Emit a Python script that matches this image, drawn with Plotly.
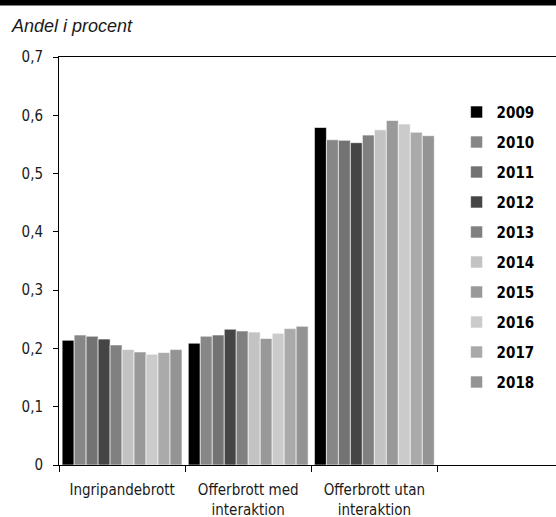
import plotly.graph_objects as go

categories = ["Ingripandebrott", "Offerbrott med<br>interaktion", "Offerbrott utan<br>interaktion"]
years = ["2009", "2010", "2011", "2012", "2013", "2014", "2015", "2016", "2017", "2018"]

ingripande = [0.214, 0.223, 0.221, 0.216, 0.206, 0.198, 0.194, 0.190, 0.193, 0.198]
offer_med = [0.209, 0.221, 0.223, 0.233, 0.230, 0.228, 0.217, 0.226, 0.234, 0.238]
offer_utan = [0.579, 0.558, 0.557, 0.553, 0.566, 0.575, 0.591, 0.585, 0.571, 0.565]

y_ticks = [0, 0.1, 0.2, 0.3, 0.4, 0.5, 0.6, 0.7]
y_labels = ["0", "0,1", "0,2", "0,3", "0,4", "0,5", "0,6", "0,7"]

colors = ["#000000", "#878787", "#737373", "#454545", "#808080",
          "#c3c3c3", "#999999", "#cbcbcb", "#aaaaaa", "#949494"]

font_cond = "DejaVu Sans Condensed"

fig = go.Figure()
for i, year in enumerate(years):
    fig.add_trace(go.Bar(
        x=categories,
        y=[ingripande[i], offer_med[i], offer_utan[i]],
        name=year,
        legendgroup=year,
        marker=dict(color=colors[i], line=dict(color="white", width=0.6)),
    ))

fig.update_layout(
    width=556, height=517,
    margin=dict(l=59, r=0, t=57, b=52),
    plot_bgcolor="white", paper_bgcolor="white",
    barmode="group", bargap=0.05, bargroupgap=0,
    font=dict(family=font_cond, size=15, color="#1a1a1a"),
    showlegend=True,
    legend=dict(
        x=0.80, y=0.905, xanchor="left", yanchor="top",
        font=dict(family=font_cond, size=15, color="#000000", weight="bold"),
        tracegroupgap=7.5,
        bgcolor="rgba(0,0,0,0)",
    ),
    shapes=[dict(type="rect", xref="paper", yref="paper",
                 x0=-0.2, x1=1.05, y0=1 + 51.5 / 408, y1=1 + 62 / 408,
                 fillcolor="black", line=dict(width=0))],
    annotations=[dict(text="<i>Andel i procent</i>", xref="paper", yref="paper",
                      x=-50 / 497, y=1 + 31 / 408, xanchor="left", yanchor="middle",
                      showarrow=False,
                      font=dict(family="Liberation Sans, Arial, sans-serif", size=18, color="#1a1a1a"))],
)

fig.update_xaxes(
    categoryorder="array", categoryarray=categories + [" "],
    range=[-0.5, 3.44], automargin=False,
    tickson="boundaries", ticks="outside", ticklen=6, tickcolor="black",
    ticklabelstandoff=11,
    showline=True, linecolor="black", linewidth=1, mirror=True,
    showgrid=False, tickangle=0,
)
fig.update_yaxes(
    range=[0, 0.7], tickvals=y_ticks, ticktext=y_labels, automargin=False,
    ticks="outside", ticklen=5, tickcolor="black",
    ticklabelstandoff=7,
    showline=True, linecolor="black", linewidth=1,
    showgrid=False, zeroline=False,
)

fig.write_html("out.html", config={"displayModeBar": False},
               post_script="document.body.style.margin='0';")
